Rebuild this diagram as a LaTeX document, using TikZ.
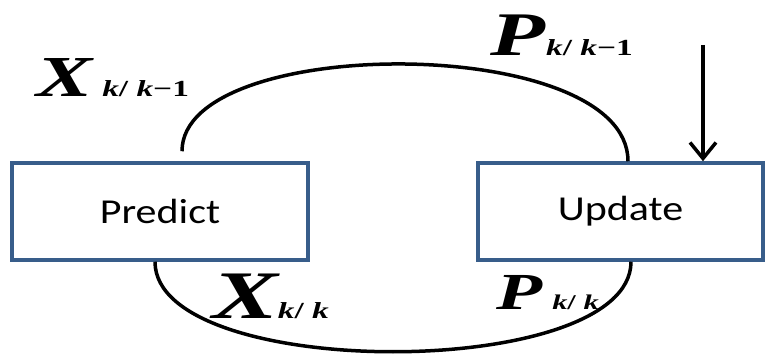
\documentclass[tikz,border=0pt]{standalone}
\usepackage{fontspec}
\setmainfont{Liberation Serif}
\newfontfamily\boxfont[FakeStretch=1.2]{Carlito}
\newfontfamily\estfont[FakeStretch=1.45]{Liberation Serif}
\usetikzlibrary{arrows.meta}
\definecolor{boxblue}{RGB}{56,93,138}
\tikzstyle{stage} = [rectangle, draw=boxblue, line width=3.5pt, minimum height=97pt, inner sep=0pt, text centered, font=\boxfont\fontsize{35}{35}\selectfont]
\tikzstyle{loop} = [line width=3.5pt]
\tikzstyle{arrow} = [line width=3.5pt, -{Straight Barb[length=16pt,width=26pt]}]
\tikzstyle{est} = [anchor=base west, inner sep=0pt, font=\estfont\bfseries\itshape]
\newcommand{\estsym}[2]{{\fontsize{#1}{#1}\selectfont #2}}
\newcommand{\estsub}[2]{{\fontsize{#1}{#1}\selectfont #2}}

\begin{document}
\begin{tikzpicture}[x=1pt, y=-1pt]
    \useasboundingbox (0,0) rectangle (766,358);
    \node (predict) [stage, minimum width=296pt] at (160,211.5) {Predict};
    \node (update) [stage, minimum width=285pt] at (620.5,211.5) {Update};

    \coordinate (xprior) at ([xshift=22pt, yshift=10pt]predict.north);
    \coordinate (input) at (703,45);

    \node (xkk1) [est] at (36,97) {\estsym{58}{X}\hspace{10pt}\estsub{23}{k\upshape/\ \itshape k\upshape{}−1}};
    \node (pkk1) [est] at (490,56) {\estsym{62}{P}\hspace{1pt}\estsub{23}{k\upshape/\ \itshape k\upshape{}−1}};
    \node (xkk) [est] at (212,318) {\estsym{68}{X}\hspace{0pt}\estsub{23}{k\upshape/\ \itshape k}};
    \node (pkk) [est] at (496,309) {\estsym{52}{P}\hspace{10pt}\estsub{21}{k\upshape/\ \itshape k}};

    \draw [loop] (xprior) .. controls +(0,-118) and +(0,-128) .. ([xshift=7.5pt]update.north);
    \draw [loop] ([xshift=-5pt]predict.south) .. controls +(0,120) and +(0,120) .. ([xshift=10.5pt]update.south);
    \draw [arrow] (input) -- (input |- update.north);
\end{tikzpicture}
\end{document}
